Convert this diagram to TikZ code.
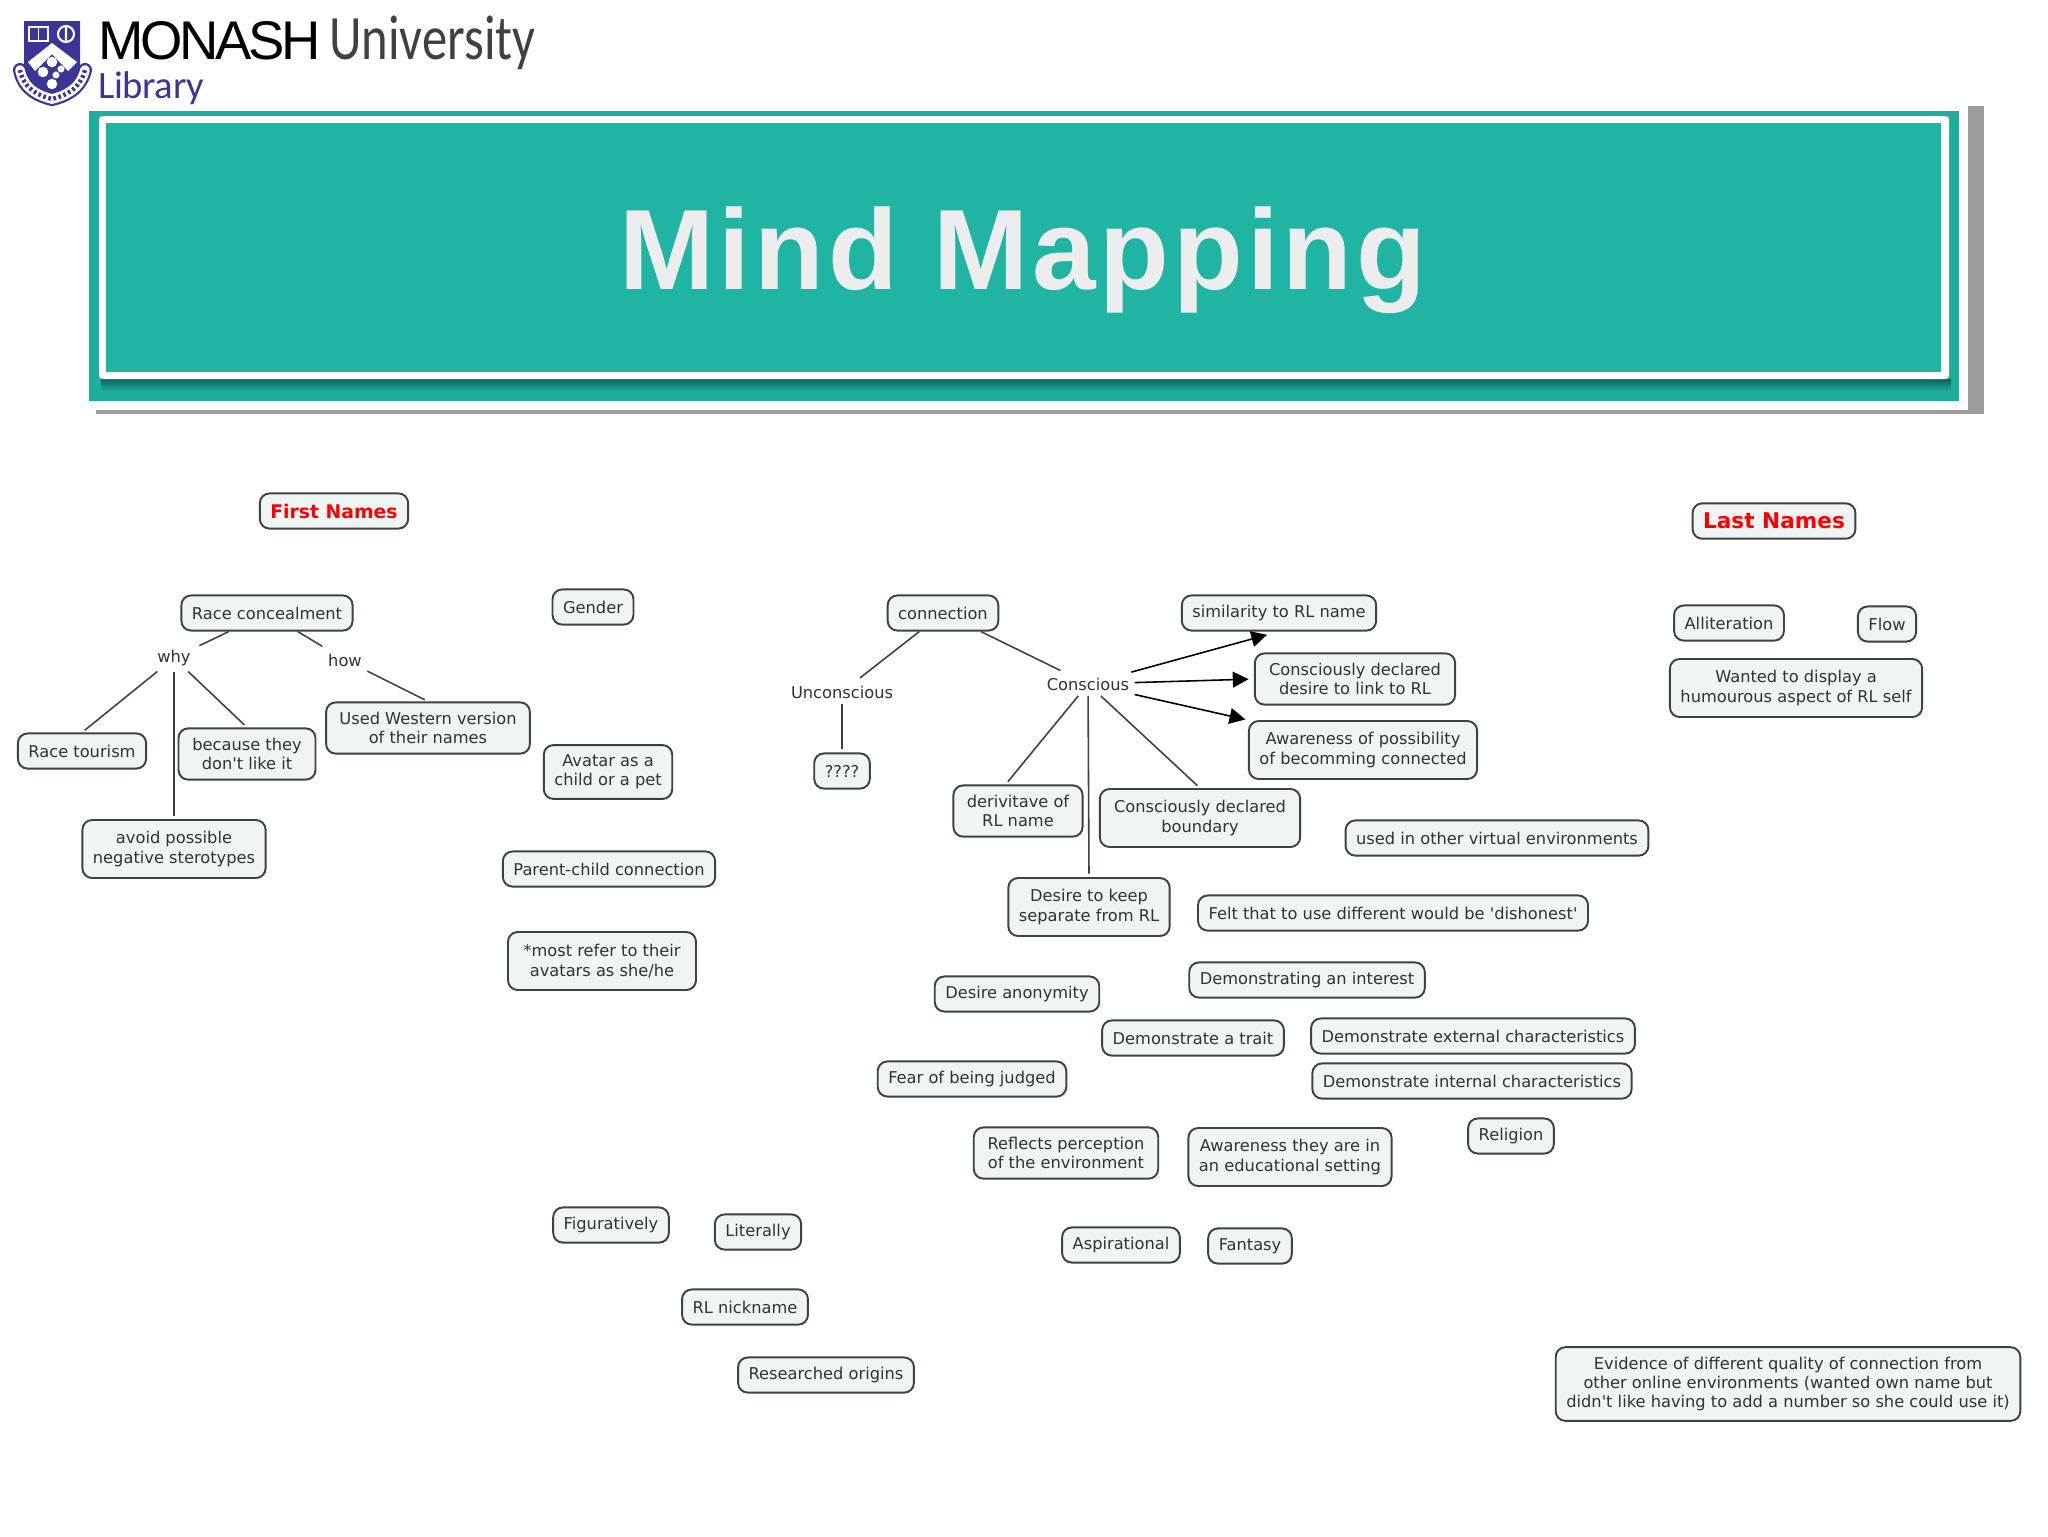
\documentclass[tikz,border=0pt]{standalone}
\usepackage{fontspec}
\newfontfamily\boxfont{DejaVu Sans}
\newfontfamily\titlefont[LetterSpace=3.4]{Liberation Sans}
\newfontfamily\monashfont[LetterSpace=-6.0]{Liberation Sans}
\newfontfamily\unifont[FakeStretch=0.8]{Carlito}
\newfontfamily\libfont[LetterSpace=-1.0]{Carlito}
\usepackage{xcolor}
\usetikzlibrary{arrows.meta, positioning}
\definecolor{banner teal}{HTML}{1FB5A2}
\definecolor{frame grey}{HTML}{9C9C9C}
\definecolor{monash blue}{HTML}{3A3597}
\definecolor{box fill}{HTML}{EFF4F5}
\definecolor{box line}{HTML}{3C4245}
\definecolor{ink}{HTML}{2F3335}

\begin{document}
\begin{tikzpicture}[
    x=0.02cm, y=-0.02cm,
    concept node/.style={rectangle, rounded corners=5.5pt, fill=box fill, draw=box line, line width=1.1pt,
        text=ink, align=center, inner xsep=6pt, inner ysep=5.5pt, minimum height=20pt,
        font=\fontsize{9.25}{11}\boxfont},
    tall node/.style={concept node, minimum height=33pt},
    label node/.style={text=ink, align=center, inner sep=3pt, font=\fontsize{9.25}{11}\boxfont},
    heading node/.style={concept node, text=red, font=\fontsize{#1}{12}\boxfont\bfseries},
    link/.style={draw=box line, line width=0.9pt, shorten >=2pt},
    arrow link/.style={link, -{Triangle[length=9pt, width=9pt]}, black, shorten >=3pt},
    star/.style={circle, fill=white, inner sep=0pt, minimum size=#1}
]
    \useasboundingbox (0,0) rectangle (2048,1536);

    % Logo
    \fill[monash blue] (24,21) -- (80,21) -- (80,64) .. controls (80,80) and (66,88) .. (52,96) .. controls (38,88) and (24,80) .. (24,64) -- cycle;
    \fill[white] (52,43) -- (77,62) -- (68,71) -- (52,54) -- (35,71) -- (28,62) -- cycle;
    \draw[white, line width=0.9pt] (29,27) rectangle (48,41) (38.5,27) -- (38.5,41);
    \draw[white, line width=1.2pt] (66,34) circle (8) (66,25) -- (66,43);
    \node[star=6pt] (star a) at (52,62) {};
    \node[star=4pt] (star b) at (61,69) {};
    \node[star=6pt] (star c) at (43,72) {};
    \node[star=4pt] (star d) at (56,75) {};
    \node[star=6pt] (star e) at (52,84) {};
    \draw[monash blue, line width=8pt, line cap=round] (20,70) .. controls (24,90) and (40,96) .. (52,99) .. controls (64,96) and (80,90) .. (85,70);
    \draw[white, line width=5.5pt, line cap=round] (20,70) .. controls (24,90) and (40,96) .. (52,99) .. controls (64,96) and (80,90) .. (85,70);
    \draw[monash blue, line width=2.5pt, dash pattern=on 1.5pt off 1.5pt] (20,70) .. controls (24,90) and (40,96) .. (52,99) .. controls (64,96) and (80,90) .. (85,70);
    \node[anchor=base west, inner sep=0pt, font=\fontsize{31}{31}\monashfont] (monash) at (98,59) {MONASH};
    \node[anchor=base west, inner sep=0pt, text=black!75, font=\fontsize{36}{36}\unifont] (university) at (329,59) {University};
    \node[anchor=base west, inner sep=0pt, text=monash blue, font=\fontsize{22}{22}\libfont] (library) at (98,98) {Library};

    % Banner
    \fill[frame grey] (1968,106) rectangle (1984,414);
    \fill[frame grey] (96,410) rectangle (1984,414);
    \fill[banner teal!96!black] (89,111) rectangle (1959,401);
    \shade[top color=banner teal!55!black, bottom color=banner teal!96!black] (101,379) rectangle (1951,391);
    \fill[white, rounded corners=2pt] (99,116) rectangle (1949,379);
    \fill[banner teal] (106,123) rectangle (1941,372);
    \node[text=white!93!black, font=\fontsize{65}{65}\titlefont\bfseries] (title) at (1023,260) {Mind Mapping};

    % Nodes
    \node[heading node=10.7] (first names) at (334,511) {First Names};
    \node[heading node=12.3] (last names) at (1774,521) {Last Names};

    \node[concept node] (race) at (267,613) {Race concealment};
    \node[label node] (why) at (174,658) {why};
    \node[label node] (how) at (345,660) {how};
    \node[concept node] (tourism) at (82,751) {Race tourism};
    \node[concept node, minimum width=78pt] (dislike) at (247,754) {because they\\ don't like it};
    \node[concept node, minimum width=116pt] (western) at (428,728) {Used Western version\\ of their names};
    \node[tall node] (avoid) at (174,849) {avoid possible\\ negative sterotypes};

    \node[concept node] (gender) at (593,607) {Gender};
    \node[concept node] (avatar) at (608,772) {Avatar as a\\ child or a pet};
    \node[concept node] (parent) at (609,869) {Parent-child connection};
    \node[tall node, minimum width=107pt] (refer) at (602,961) {*most refer to their\\ avatars as she/he};

    \node[concept node] (connection) at (943,613) {connection};
    \node[label node] (unconscious) at (842,692) {Unconscious};
    \node[label node] (conscious) at (1088,684) {Conscious};
    \node[concept node] (unknown) at (842,771) {????};
    \node[concept node] (similarity) at (1279,613) {similarity to RL name};
    \node[concept node, minimum width=114pt] (desire link) at (1355,679) {Consciously declared\\ desire to link to RL};
    \node[tall node] (possibility) at (1363,750) {Awareness of possibility\\ of becomming connected};
    \node[concept node, minimum width=73.5pt] (derivative) at (1018,811) {derivitave of\\ RL name};
    \node[tall node, minimum width=114pt] (boundary) at (1200,818) {Consciously declared\\ boundary};
    \node[tall node] (keep) at (1089,907) {Desire to keep\\ separate from RL};

    \node[concept node] (virtual) at (1497,838) {used in other virtual environments};
    \node[concept node] (dishonest) at (1393,913) {Felt that to use different would be 'dishonest'};
    \node[concept node] (interest) at (1307,980) {Demonstrating an interest};
    \node[concept node] (anonymity) at (1017,994) {Desire anonymity};
    \node[concept node] (trait) at (1193,1038) {Demonstrate a trait};
    \node[concept node] (external) at (1473,1036) {Demonstrate external characteristics};
    \node[concept node] (internal) at (1472,1081) {Demonstrate internal characteristics};
    \node[concept node] (judged) at (972,1079) {Fear of being judged};
    \node[concept node, minimum width=105pt] (perception) at (1066,1153) {Reflects perception\\ of the environment};
    \node[tall node] (setting) at (1290,1157) {Awareness they are in\\ an educational setting};
    \node[concept node] (religion) at (1511,1136) {Religion};

    \node[concept node] (figuratively) at (611,1225) {Figuratively};
    \node[concept node] (literally) at (758,1232) {Literally};
    \node[concept node] (aspirational) at (1121,1245) {Aspirational};
    \node[concept node] (fantasy) at (1250,1246) {Fantasy};
    \node[concept node] (nickname) at (745,1307) {RL nickname};
    \node[concept node] (origins) at (826,1375) {Researched origins};
    \node[concept node] (evidence) at (1788,1384) {Evidence of different quality of connection from\\ other online environments (wanted own name but\\ didn't like having to add a number so she could use it)};

    \node[concept node] (alliteration) at (1729,623) {Alliteration};
    \node[concept node] (flow) at (1887,624) {Flow};
    \node[tall node] (humour) at (1796,688) {Wanted to display a\\ humourous aspect of RL self};

    % Edges
    \draw[link] (race) -- (why);
    \draw[link] (race) -- (how);
    \draw[link] (how) -- (western.north);
    \draw[link] (why) -- (tourism.north);
    \draw[link] (why) -- (avoid.north);
    \draw[link] (why) -- (dislike.north);

    \draw[link] (connection) -- (unconscious);
    \draw[link] (connection) -- (conscious);
    \draw[link] (unconscious) -- (unknown);
    \draw[link] (conscious) -- (derivative.115);
    \draw[link] (conscious) -- (keep.north);
    \draw[link] (conscious) -- (boundary.north);

    \draw[arrow link, shorten >=7pt] (conscious) -- (similarity.south);
    \draw[arrow link] (conscious) -- (desire link.west);
    \draw[arrow link, shorten >=1.5pt] (conscious) -- (possibility.north west);
\end{tikzpicture}
\end{document}
